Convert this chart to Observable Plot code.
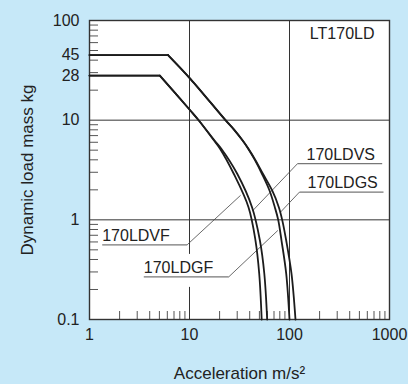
<!DOCTYPE html>
<html><head><meta charset="utf-8">
<script src="https://cdn.jsdelivr.net/npm/d3@7"></script>
<script src="https://cdn.jsdelivr.net/npm/@observablehq/plot@0.6"></script>
<style>html,body{margin:0;padding:0;background:#c6e8f8;}</style>
</head><body><div id="chart"></div>
<script>
// ---- tick values ----
const xTicks = [1, 10, 100, 1000];
const yTicks = [0.1, 1, 10, 28, 45, 100];
const xMinor = [2,3,4,5,6,7,8,9,20,30,40,50,60,70,80,90,200,300,400,500,600,700,800,900];
const yMinor = [0.2,0.3,0.4,0.5,0.6,0.7,0.8,0.9,2,3,4,5,6,7,8,9,20,30,40,50,60,70,80,90];
const xGrid = [10, 100];
const yGrid = [1, 10];
const xTitle = "Acceleration m/s²";
const yTitle = "Dynamic load mass kg";
const modelTitle = "LT170LD";

// ---- curves: V series (28 kg cap) ----
const vMass   = [28, 28, 12.5, 9.93, 6.25, 5.17, 2.9, 1.34, 0.62, 0.288, 0.1];
const vfAccel = [1, 5.05, 10.2, 12.4, 17.6, 20.2, 27.7, 38.9, 45.7, 49.8, 52.7];
const vsAccel = [1, 5.05, 10.2, 12.4, 17.8, 20.8, 30.0, 42.2, 50.6, 56.0, 59.8];
// ---- curves: G series (45 kg cap) ----
const gMass   = [45, 45, 26, 10, 8.0, 6.25, 5.2, 4.0, 2.9, 1.97, 1.34, 1, 0.62, 0.288, 0.1];
const gfAccel = [1, 6.1, 10.2, 22.9, 28, 34.0, 38.5, 45.0, 53.0, 63.1, 71.3, 77.1, 83.2, 92.7, 100];
const gsAccel = [1, 6.1, 10.2, 22.9, 28, 34.0, 38.7, 45.5, 54.2, 67.1, 78.2, 84.5, 92.7, 104.7, 114.8];

// ---- curve labels ----
const labelNames   = ["170LDVF", "170LDVS", "170LDGF", "170LDGS"];
const labelTextX   = [1.34, 147.9, 3.49, 151.4];
const underlineX1  = [1.34, 120.2, 3.49, 125.9];
const underlineX2  = [9.48, 845, 24.7, 871];
const underlineY   = [0.562, 3.66, 0.268, 1.90];
const leaderStartX = [9.48, 120.2, 24.7, 125.9];
const leaderEndX   = [32.4, 43.0, 76.5, 81.0];
const leaderEndY   = [1.76, 1.24, 0.783, 1.19];
// white box behind the 170LDGF label (cuts the grid line)
const boxX = [3.3, 20];
const boxY = [0.21, 0.45];

// ---- build tables ----
const curveSets = [
  {name: "170LDVF", accel: vfAccel, mass: vMass},
  {name: "170LDVS", accel: vsAccel, mass: vMass},
  {name: "170LDGF", accel: gfAccel, mass: gMass},
  {name: "170LDGS", accel: gsAccel, mass: gMass}
];
const flatRows = [], tailRows = [];
for (const c of curveSets) {
  c.accel.forEach((a, i) => {
    const row = {name: c.name, a, m: c.mass[i]};
    if (i <= 1) flatRows.push(row);
    if (i >= 1) tailRows.push(row);
  });
}
const labels = labelNames.map((n, i) => ({
  name: n, tx: labelTextX[i], ux1: underlineX1[i], ux2: underlineX2[i], uy: underlineY[i],
  lx: leaderStartX[i], ex: leaderEndX[i], ey: leaderEndY[i]
}));

const W = 408, H = 384, mL = 89, mR = 19, mT = 20, mB = 65;
const plotW = W - mL - mR, plotH = H - mT - mB;
const font = "'Liberation Sans', Arial, Helvetica, sans-serif";

const chart = Plot.plot({
  width: W, height: H,
  marginLeft: mL, marginRight: mR, marginTop: mT, marginBottom: mB,
  x: {type: "log", domain: [1, 1000], axis: null},
  y: {type: "log", domain: [0.1, 100], axis: null},
  style: {background: "#c6e8f8", fontFamily: font, fontSize: "16px", color: "#222"},
  marks: [
    Plot.frame({fill: "white", stroke: "none"}),
    Plot.ruleX(xGrid, {stroke: "#333", strokeWidth: 1}),
    Plot.ruleY(yGrid, {stroke: "#333", strokeWidth: 1}),
    Plot.tickX(xMinor, {x: d => d, insetTop: plotH - 8, stroke: "#555", strokeWidth: 1}),
    Plot.tickY(yMinor, {y: d => d, insetRight: plotW - 9, stroke: "#555", strokeWidth: 1}),
    Plot.rect([0], {x1: () => boxX[0], x2: () => boxX[1], y1: () => boxY[0], y2: () => boxY[1], fill: "white"}),
    Plot.frame({stroke: "#333", strokeWidth: 1.4}),
    // label underlines and leaders
    Plot.link(labels, {x1: "ux1", x2: "ux2", y1: "uy", y2: "uy", stroke: "#777", strokeWidth: 1.3}),
    Plot.link(labels, {x1: "lx", y1: "uy", x2: "ex", y2: "ey", stroke: "#444", strokeWidth: 0.8}),
    // curves
    Plot.line(flatRows, {x: "a", y: "m", z: "name", stroke: "#1c1c1c", strokeWidth: 1.8}),
    Plot.line(tailRows, {x: "a", y: "m", z: "name", curve: "catmull-rom", stroke: "#1c1c1c", strokeWidth: 1.8}),
    // label texts
    Plot.text(labels, {x: "tx", y: "uy", text: "name", textAnchor: "start", lineAnchor: "bottom", dy: -4, fontSize: 16, fill: "#222"}),
    Plot.text([modelTitle], {frameAnchor: "top-right", textAnchor: "end", lineAnchor: "bottom", dx: -15, dy: 18, fontSize: 16, fill: "#222"}),
    // tick labels
    Plot.text(xTicks, {x: d => d, text: d => String(d), frameAnchor: "bottom", textAnchor: "middle", lineAnchor: "top", dy: 9, fontSize: 16, fill: "#222"}),
    Plot.text(yTicks, {y: d => d, text: d => String(d), frameAnchor: "left", textAnchor: "end", lineAnchor: "middle", dx: -10, fontSize: 16, fill: "#222"}),
    // axis titles
    Plot.text([xTitle], {frameAnchor: "bottom", textAnchor: "middle", lineAnchor: "bottom", dy: 59, fontSize: 17, fill: "#222"}),
    Plot.text([yTitle], {frameAnchor: "left", textAnchor: "middle", rotate: -90, lineAnchor: "middle", dx: -62, fontSize: 17, fill: "#222"})
  ]
});
document.getElementById("chart").appendChild(chart);
</script>
</body></html>
